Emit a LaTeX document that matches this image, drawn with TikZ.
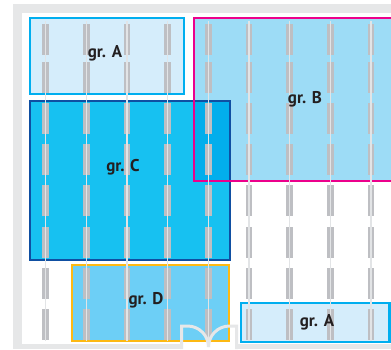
\documentclass[tikz,border=0pt]{standalone}
\usepackage{fontspec}
\setmainfont{PT Sans}
\definecolor{wall}{HTML}{E6E7E8}
\definecolor{seat}{HTML}{BEBFC3}
\definecolor{aisle}{HTML}{E2E4E6}
\definecolor{fillA}{HTML}{D5EDFB}
\definecolor{lineA}{HTML}{00AEEF}
\definecolor{fillB}{HTML}{9DDCF6}
\definecolor{lineB}{HTML}{EC008C}
\definecolor{fillC}{HTML}{17C1F1}
\definecolor{lineC}{HTML}{0F4FA2}
\definecolor{fillBC}{HTML}{02AEEC}
\definecolor{fillD}{HTML}{6DCFF6}
\definecolor{lineD}{HTML}{FDB913}
\definecolor{ink}{HTML}{231F20}
\tikzset{
  zoneborder/.style={line width=2.4pt},
  seatbox/.style={fill=seat},
  aisleline/.style={draw=aisle, line width=1.3pt},
  doorline/.style={draw=wall, line width=3pt},
  grlabel/.style={font=\bfseries\fontsize{17}{20}\selectfont, text=ink, inner sep=0pt}
}
\begin{document}
\begin{tikzpicture}[x=1pt,y=-1pt]
\useasboundingbox (0,0) rectangle (391,349);
\fill[white] (0,0) rectangle (391,349);

% outer walls
\fill[wall] (13,4) rectangle (391,13);
\fill[wall] (13,4) rectangle (22,349);
\fill[wall] (13,344) rectangle (181,349);
\fill[wall] (238,344) rectangle (391,349);

% zone fills
\fill[fillA] (30.2,18.2) rectangle (183.8,93.8);
\fill[fillB] (194.2,18.2) rectangle (400,180.8);
\fill[fillC] (30.2,101.2) rectangle (229.8,259.8);
\fill[fillBC] (194.2,101.2) rectangle (229.8,180.8);
\fill[fillD] (72.2,265.2) rectangle (228.8,340.8);
\fill[fillA] (241.2,303.2) rectangle (389.5,341.8);

% zone borders
\draw[zoneborder, lineA] (30.2,18.2) rectangle (183.8,93.8);
\draw[zoneborder, lineC] (30.2,101.2) rectangle (229.8,259.8);
\draw[zoneborder, lineB] (194.2,18.2) rectangle (400,180.8);
\draw[zoneborder, lineD] (72.2,265.2) rectangle (228.8,340.8);
\draw[zoneborder, lineA] (241.2,303.2) rectangle (389.5,341.8);

% seat rows and aisle lines
\foreach \i in {0,...,8} {
  \pgfmathsetmacro{\cx}{45.7+40.67*\i}
  \foreach \ry in {24,61.7,102.7,144,185,227.3,268.3,309.3} {
    \fill[seatbox] (\cx-3.4,\ry) rectangle (\cx+3.4,\ry+31);
  }
  \coordinate (top\i) at (\cx,21);
  \coordinate (bot\i) at (\cx,341);
  \draw[aisleline] (top\i) -- (bot\i);
}

% double door
\coordinate (jl) at (181.5,349);
\coordinate (jr) at (236.5,349);
\draw[doorline] (jl) -- (181.5,326) -- (187.5,326) arc[start angle=-90, end angle=0, radius=21];
\draw[doorline] (jr) -- (236.5,326) -- (229.5,326) arc[start angle=-90, end angle=-180, radius=21];

% labels
\node[grlabel] (labA1) at (105,53.5) {gr. A};
\node[grlabel] (labB) at (305,99) {gr. B};
\node[grlabel] (labC) at (123,167) {gr. C};
\node[grlabel] (labD) at (146,300) {gr. D};
\node[grlabel] (labA2) at (317,322) {gr. A};
\end{tikzpicture}
\end{document}
